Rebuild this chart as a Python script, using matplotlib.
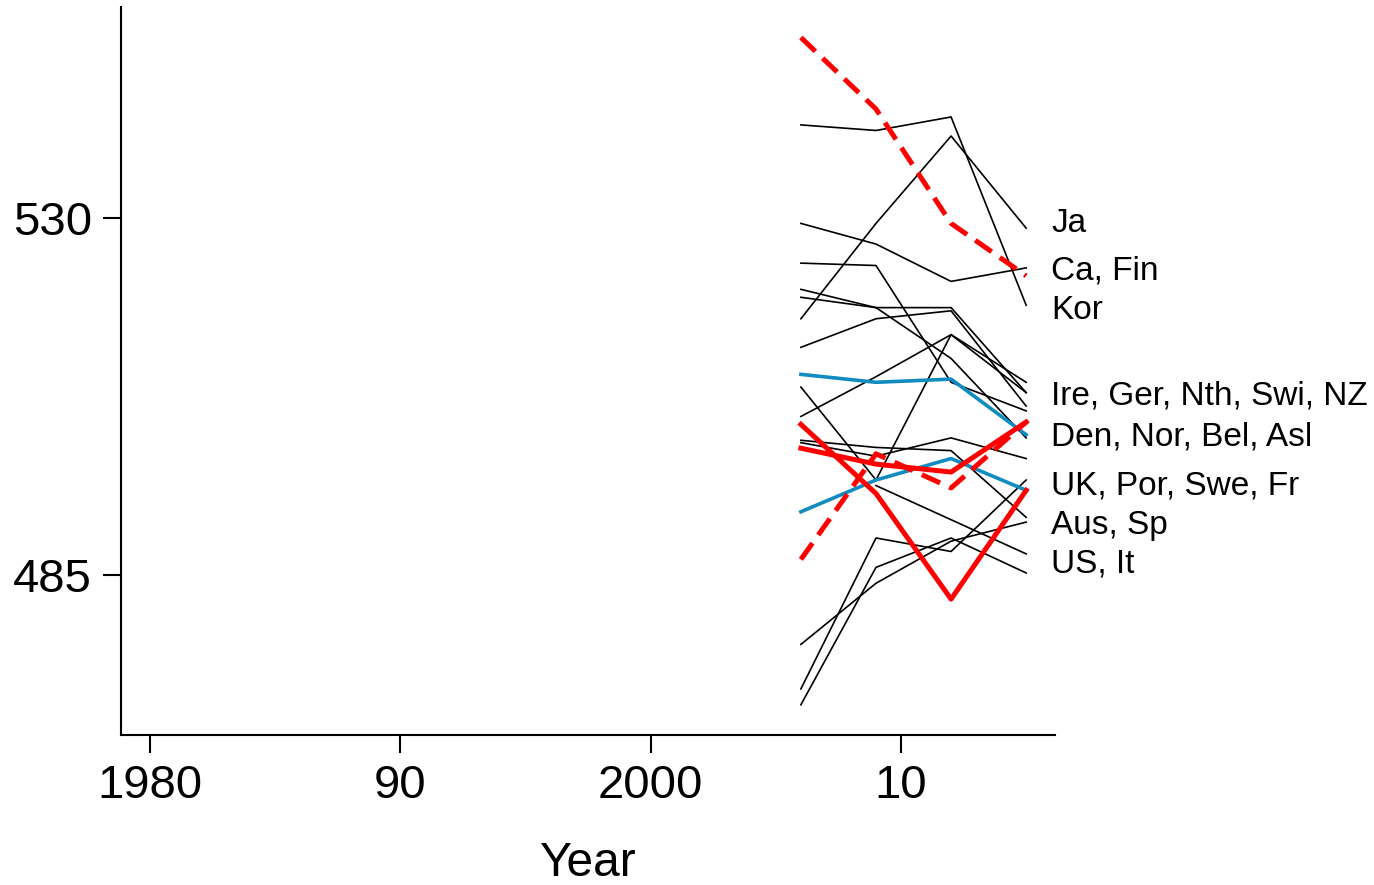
import numpy as np
import matplotlib
matplotlib.use("Agg")
import matplotlib.pyplot as plt

plt.rcParams['font.family'] = ['Liberation Sans', 'DejaVu Sans']

# PISA waves
years = [2006, 2009, 2012, 2015]

# average score per country
japan = [517.3, 529.3, 540.3, 528.7]
canada = [529.3, 526.7, 522.0, 523.7]
korea = [541.7, 541.0, 542.7, 519.0]
ireland = [508.7, 497.0, 515.3, 509.3]
germany = [505.0, 510.0, 515.3, 508.0]
netherlands = [521.0, 518.7, 518.7, 508.0]
switzerland = [513.7, 517.3, 518.3, 506.3]
new_zealand = [524.3, 524.0, 509.3, 505.7]
australia = [520.0, 518.7, 512.3, 502.3]
uk = [501.7, 500.0, 502.3, 499.7]
portugal = [470.7, 489.7, 488.0, 497.0]
austria = [502.0, 501.1, 500.7, 492.3]
spain = [476.3, 484.0, 489.3, 491.7]
usa = [np.nan, 496.3, 492.0, 487.7]
italy = [468.7, 486.0, 489.7, 485.3]

finland = [552.7, 543.7, 529.3, 522.7]
norway = [487.0, 500.3, 496.0, 504.3]
sweden = [504.0, 495.3, 482.0, 495.7]
denmark = [501.0, 499.0, 498.0, 504.3]

belgium = [510.3, 509.3, 509.7, 502.7]
france = [493.0, 497.0, 499.7, 495.7]

black_series = [japan, canada, korea, ireland, germany, netherlands, switzerland,
                new_zealand, australia, uk, portugal, austria, spain, usa, italy]
blue_series = [belgium, france]

# right-hand group labels and their heights
group_labels = ['Ja', 'Ca, Fin', 'Kor', 'Ire, Ger, Nth, Swi, NZ',
                'Den, Nor, Bel, Asl', 'UK, Por, Swe, Fr', 'Aus, Sp', 'US, It']
group_label_y = [529.7, 523.8, 518.8, 508.0, 502.8, 496.7, 491.7, 486.8]

xticks = [1980, 1990, 2000, 2010]
xtick_labels = ['1980', '90', '2000', '10']
yticks = [485, 530]

fig = plt.figure(figsize=(13.74, 8.85), dpi=100)
ax = fig.add_axes([0.0881, 0.1695, 0.6797, 0.8222])

for s in black_series:
    ax.plot(years, s, color='black', lw=1.2, zorder=2)
for s in blue_series:
    ax.plot(years, s, color='#108cc0', lw=2.6, zorder=3)

ax.plot(years, sweden, color='#ff0000', lw=3.6, zorder=4)
ax.plot(years, denmark, color='#ff0000', lw=3.6, zorder=4)
ax.plot(years, finland, color='#ff0000', lw=3.6, ls=(0, (4, 2)), zorder=4)
ax.plot(years, norway, color='#ff0000', lw=3.6, ls=(0, (4, 2)), zorder=4)

for lab, yv in zip(group_labels, group_label_y):
    ax.annotate(lab, xy=(2016.0, yv), xytext=(0, -8.6), textcoords='offset points',
                ha='left', va='baseline', fontsize=24, annotation_clip=False)

ax.set_xlim(1978.84, 2016.15)
ax.set_ylim(464.9, 556.5)
ax.set_xticks(xticks)
ax.set_xticklabels(xtick_labels)
ax.set_yticks(yticks)

for side in ['top', 'right']:
    ax.spines[side].set_visible(False)
for side in ['left', 'bottom']:
    ax.spines[side].set_linewidth(1.5)

ax.tick_params(axis='both', length=13, width=1.5, pad=8, labelsize=34)
ax.set_xlabel('Year', fontsize=34.5, labelpad=24)

fig.savefig('out.png', dpi=100)
